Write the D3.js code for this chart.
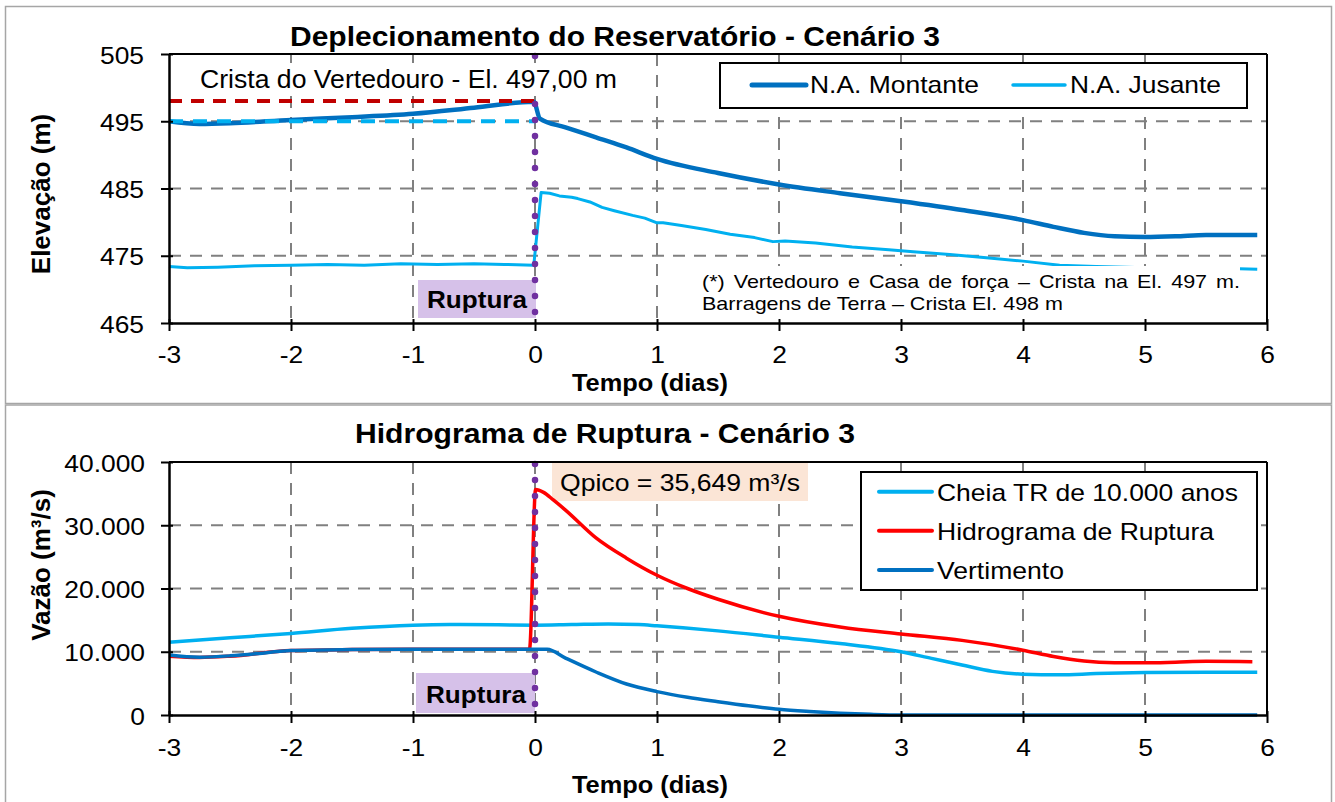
<!DOCTYPE html>
<html><head><meta charset="utf-8">
<script src="https://cdn.jsdelivr.net/npm/d3@7"></script>
<style>
body{margin:0;background:#fff}
svg{display:block}
text{font-family:"Liberation Sans", Arial, sans-serif; fill:#000}
</style>
</head><body>
<svg id="c" width="1335" height="802"></svg>
<script>
// ---------------- DATA ----------------
const diasTicks = [-3, -2, -1, 0, 1, 2, 3, 4, 5, 6];
const elevTicks = [465, 475, 485, 495, 505];
const vazaoTicks = [0, 10000, 20000, 30000, 40000];

// Top chart: Deplecionamento
const tMontante = [-3, -2.75, -2.5, -2.0, -1.5, -1.0, -0.5, -0.01, 0.04, 0.25, 0.5, 0.75, 1.0, 1.5, 2.0, 2.5, 3.0, 3.5, 4.0, 4.25, 4.5, 4.75, 5.0, 5.25, 5.5, 5.92];
const naMontante = [495.0, 494.6, 494.7, 495.2, 495.6, 496.1, 497.0, 497.9, 495.4, 494.1, 492.6, 491.1, 489.4, 487.3, 485.6, 484.3, 483.1, 481.8, 480.3, 479.3, 478.4, 477.9, 477.8, 477.9, 478.1, 478.1];

const tJusante = [-3, -2.85, -2.6, -2.3, -2.0, -1.7, -1.4, -1.1, -0.8, -0.5, -0.25, -0.01, 0.05, 0.12, 0.2, 0.3, 0.35, 0.45, 0.55, 0.65, 0.8, 0.9, 1.0, 1.05, 1.2, 1.4, 1.6, 1.8, 1.95, 2.05, 2.3, 2.6, 2.9, 3.1, 3.4, 3.7, 4.0, 4.3, 4.6, 5.0, 5.4, 5.7, 5.92];
const naJusante = [473.4, 473.2, 473.3, 473.5, 473.6, 473.7, 473.6, 473.8, 473.7, 473.8, 473.7, 473.6, 484.4, 484.3, 483.9, 483.7, 483.5, 483.0, 482.2, 481.7, 481.0, 480.6, 479.9, 479.9, 479.5, 478.9, 478.2, 477.7, 477.1, 477.2, 476.9, 476.3, 475.9, 475.6, 475.2, 474.7, 474.2, 473.6, 473.4, 473.2, 473.1, 473.1, 473.0];

const tReferencia = [-3, 0];
const elCrista = [498, 498];
const elNormal = [495, 495];
const tRuptura = 0;

// Bottom chart: Hidrograma
const tCheia = [-3, -2.5, -2, -1.5, -1, -0.7, -0.3, 0, 0.3, 0.6, 0.85, 1.0, 1.5, 2.0, 2.5, 3.0, 3.25, 3.5, 3.75, 4.0, 4.3, 4.6, 5.0, 5.5, 5.92];
const qCheia = [11500, 12200, 12900, 13700, 14200, 14300, 14250, 14200, 14300, 14400, 14300, 14100, 13300, 12300, 11300, 10000, 8950, 7900, 6900, 6450, 6350, 6550, 6700, 6750, 6750];

const tHidro = [-3, -2.75, -2.5, -2, -1.5, -1, -0.5, -0.045, 0.005, 0.07, 0.15, 0.25, 0.5, 0.75, 1.0, 1.25, 1.5, 2.0, 2.5, 3.0, 3.5, 4.0, 4.25, 4.5, 4.75, 5.0, 5.25, 5.5, 5.88];
const qHidro = [9300, 9100, 9300, 10200, 10350, 10400, 10400, 10400, 35649, 35200, 34000, 32400, 28000, 24800, 22100, 20000, 18300, 15600, 13900, 12800, 11800, 10250, 9250, 8550, 8280, 8250, 8350, 8480, 8430];

const tVert = [-3, -2.75, -2.5, -2.2, -2, -1.5, -1, -0.5, 0, 0.1, 0.25, 0.5, 0.75, 1.0, 1.25, 1.5, 1.75, 2.0, 2.25, 2.5, 2.75, 3.0, 4.0, 5.0, 5.92];
const qVert = [9500, 9150, 9350, 9850, 10200, 10350, 10400, 10400, 10400, 10380, 9000, 6800, 4900, 3700, 2800, 2100, 1450, 900, 550, 280, 100, 0, 0, 0, 0];

const qPicoLabel = "Qpico = 35,649 m³/s";

// ---------------- HELPERS ----------------
const svg = d3.select("#c");
svg.append("rect").attr("width", 1335).attr("height", 802).attr("fill", "#fff");

const C = {dark: "#0070c0", light: "#00b0f0", red: "#ff0000", crest: "#c00000", purple: "#7030a0", grid: "#808080"};
const locale = d3.formatLocale({decimal: ",", thousands: ".", grouping: [3], currency: ["", ""], minus: "-"});
const fmtQ = locale.format(",d");
const fmtD = locale.format("d");

function addText(parent, str, o) {
  const t = parent.append("text").text(str)
    .attr("font-size", o.size || 24)
    .attr("font-weight", o.weight || "normal")
    .attr("y", o.y);
  const w = t.node().getComputedTextLength();
  const W = o.width != null ? o.width : w * (o.k || 1.1);
  let x0 = o.x;
  if (o.anchor === "middle") x0 = o.x - W / 2;
  if (o.anchor === "end") x0 = o.x - W;
  t.attr("x", x0).attr("textLength", W).attr("lengthAdjust", "spacingAndGlyphs");
  return t;
}

function styleAxis(g, orient, pad) {
  g.attr("font-size", null).attr("font-family", null);
  g.select(".domain").attr("stroke", "#000").attr("stroke-width", 2.5);
  g.selectAll(".tick line").attr("stroke", "#000").attr("stroke-width", 2);
  if (orient === "bottom") g.selectAll(".tick line").attr("y1", -4).attr("y2", 8);
  else g.selectAll(".tick line").attr("x1", 4).attr("x2", -8);
  g.selectAll(".tick text").each(function () {
    const t = d3.select(this);
    t.attr("font-size", 24).attr("dy", null).attr("fill", "#000").attr("text-anchor", "start");
    const w = this.getComputedTextLength();
    const W = w * 1.1;
    if (orient === "bottom") t.attr("x", -W / 2).attr("y", pad);
    else t.attr("x", -pad - W).attr("y", 9);
    t.attr("textLength", W).attr("lengthAdjust", "spacingAndGlyphs");
  });
}

function gridlines(g, x, y, xVals, yVals, y0, y1, x0, x1) {
  const gg = g.append("g").attr("stroke", C.grid).attr("stroke-width", 2).attr("stroke-dasharray", "12,9");
  xVals.forEach(v => gg.append("line").attr("x1", x(v)).attr("x2", x(v)).attr("y1", y0).attr("y2", y1));
  yVals.forEach(v => gg.append("line").attr("x1", x0).attr("x2", x1).attr("y1", y(v)).attr("y2", y(v)));
}

function series(g, xs, ys, x, y, color, width, curve, dash) {
  const pts = xs.map((d, i) => [d, ys[i]]);
  const line = d3.line().x(d => x(d[0])).y(d => y(d[1])).curve(curve || d3.curveMonotoneX);
  const p = g.append("path").datum(pts).attr("d", line).attr("fill", "none")
    .attr("stroke", color).attr("stroke-width", width).attr("stroke-linejoin", "round");
  if (dash) p.attr("stroke-dasharray", dash);
  return p;
}

// Panel frames
svg.append("rect").attr("x", 5.5).attr("y", 6.5).attr("width", 1326).attr("height", 397)
  .attr("fill", "none").attr("stroke", "#a6a6a6").attr("stroke-width", 1.5);
svg.append("rect").attr("x", 5.5).attr("y", 405).attr("width", 1326).attr("height", 400)
  .attr("fill", "none").attr("stroke", "#a6a6a6").attr("stroke-width", 1.5);

// ---------------- TOP CHART ----------------
const PL = 169, PR = 1267;
const xT = d3.scaleLinear().domain([-3, 6]).range([PL, PR]);
const yT = d3.scaleLinear().domain([465, 505]).range([323, 54]);
const gTop = svg.append("g");

gridlines(gTop, xT, yT, diasTicks.slice(1, -1), elevTicks.slice(1, -1), 54, 323, PL, PR);

series(gTop, tMontante, naMontante, xT, yT, C.dark, 4.5);
series(gTop, tJusante, naJusante, xT, yT, C.light, 3, d3.curveLinear);
series(gTop, tReferencia, elCrista, xT, yT, C.crest, 4, d3.curveLinear, "13,9");
series(gTop, tReferencia, elNormal, xT, yT, C.light, 4, d3.curveLinear, "14,10");

// annotation box
gTop.append("rect").attr("x", 690).attr("y", 266).attr("width", 550).attr("height", 55).attr("fill", "#fff");
(function () {
  const ag = gTop.append("g");
  const l2 = ag.append("text").text("Barragens de Terra – Crista El. 498 m").attr("font-size", 19).attr("y", 310);
  const w2 = l2.node().getComputedTextLength();
  const k = 361 / w2;
  l2.attr("x", 702).attr("textLength", 361).attr("lengthAdjust", "spacingAndGlyphs");
  const words = "(*) Vertedouro e Casa de força – Crista na El. 497 m.".split(" ");
  const nodes = words.map(wd => ag.append("text").text(wd).attr("font-size", 19).attr("y", 288));
  const ws = nodes.map(n => n.node().getComputedTextLength() * k);
  const total = 538, gap = (total - d3.sum(ws)) / (words.length - 1);
  let xx = 702;
  nodes.forEach((n, i) => { n.attr("x", xx).attr("textLength", ws[i]).attr("lengthAdjust", "spacingAndGlyphs"); xx += ws[i] + gap; });
})();

// Ruptura label
gTop.append("rect").attr("x", 418).attr("y", 280).attr("width", 118).attr("height", 38).attr("fill", "#d6c1e9");
addText(gTop, "Ruptura", {x: 477, y: 308, size: 24, weight: "bold", width: 100, anchor: "middle"});

// Purple dotted rupture line
gTop.append("line").attr("x1", xT(tRuptura)).attr("x2", xT(tRuptura)).attr("y1", 56).attr("y2", 323)
  .attr("stroke", C.purple).attr("stroke-width", 6.5).attr("stroke-linecap", "round").attr("stroke-dasharray", "0,16");

// Crista label (white box)
gTop.append("rect").attr("x", 193).attr("y", 63).attr("width", 432).attr("height", 32).attr("fill", "#fff");
addText(gTop, "Crista do Vertedouro - El. 497,00 m", {x: 200, y: 88, size: 25, width: 417});

// legend
const lgT = gTop.append("g");
lgT.append("rect").attr("x", 720).attr("y", 63).attr("width", 527).attr("height", 45).attr("fill", "#fff").attr("stroke", "#000").attr("stroke-width", 2);
lgT.append("line").attr("x1", 752).attr("x2", 806).attr("y1", 85).attr("y2", 85).attr("stroke", C.dark).attr("stroke-width", 5).attr("stroke-linecap", "round");
addText(lgT, "N.A. Montante", {x: 810, y: 93, size: 24, width: 169});
lgT.append("line").attr("x1", 1013).attr("x2", 1065).attr("y1", 85).attr("y2", 85).attr("stroke", C.light).attr("stroke-width", 3.5).attr("stroke-linecap", "round");
addText(lgT, "N.A. Jusante", {x: 1070, y: 93, size: 24, width: 151});

// frame + axes
gTop.append("line").attr("x1", PL).attr("x2", PR).attr("y1", 54).attr("y2", 54).attr("stroke", "#000").attr("stroke-width", 2);
gTop.append("line").attr("x1", PR).attr("x2", PR).attr("y1", 54).attr("y2", 323).attr("stroke", "#000").attr("stroke-width", 2);
const axXT = gTop.append("g").attr("transform", `translate(0,323)`)
  .call(d3.axisBottom(xT).tickValues(diasTicks).tickFormat(fmtD).tickSizeOuter(0));
styleAxis(axXT, "bottom", 40);
const axYT = gTop.append("g").attr("transform", `translate(${PL},0)`)
  .call(d3.axisLeft(yT).tickValues(elevTicks).tickFormat(fmtD).tickSizeOuter(0));
styleAxis(axYT, "left", 25);

addText(gTop, "Deplecionamento do Reservatório - Cenário 3", {x: 290, y: 46, size: 27, weight: "bold", width: 650});
addText(gTop, "Tempo (dias)", {x: 650, y: 391, size: 24, weight: "bold", width: 156, anchor: "middle"});
gTop.append("text").text("Elevação (m)").attr("font-size", 26).attr("font-weight", "bold")
  .attr("text-anchor", "middle").attr("transform", "translate(50,194) rotate(-90)");

// ---------------- BOTTOM CHART ----------------
const xB = d3.scaleLinear().domain([-3, 6]).range([PL, PR]);
const yB = d3.scaleLinear().domain([0, 40000]).range([715, 462]);
const gBot = svg.append("g");

gridlines(gBot, xB, yB, diasTicks.slice(1, -1), vazaoTicks.slice(1, -1), 462, 715, PL, PR);

// Qpico label (under the curves)
gBot.append("rect").attr("x", 552).attr("y", 463).attr("width", 256).attr("height", 38).attr("fill", "#fbe5d6");
addText(gBot, qPicoLabel, {x: 560, y: 491, size: 24, width: 240});

series(gBot, tCheia, qCheia, xB, yB, C.light, 3.5);
series(gBot, tHidro, qHidro, xB, yB, C.red, 3.5);
series(gBot, tVert, qVert, xB, yB, C.dark, 3.5);

// Ruptura label
gBot.append("rect").attr("x", 416).attr("y", 673).attr("width", 119).attr("height", 40).attr("fill", "#d6c1e9");
addText(gBot, "Ruptura", {x: 476, y: 703, size: 24, weight: "bold", width: 100, anchor: "middle"});

gBot.append("line").attr("x1", xB(tRuptura)).attr("x2", xB(tRuptura)).attr("y1", 464).attr("y2", 715)
  .attr("stroke", C.purple).attr("stroke-width", 6.5).attr("stroke-linecap", "round").attr("stroke-dasharray", "0,16");

// legend
const lgB = gBot.append("g");
lgB.append("rect").attr("x", 861).attr("y", 472).attr("width", 396).attr("height", 118).attr("fill", "#fff").attr("stroke", "#000").attr("stroke-width", 2);
[["Cheia TR de 10.000 anos", C.light, 491.7, 301], ["Hidrograma de Ruptura", C.red, 530.7, 277], ["Vertimento", C.dark, 570, 127]]
  .forEach(([lab, col, yy, w]) => {
    lgB.append("line").attr("x1", 879).attr("x2", 932).attr("y1", yy).attr("y2", yy).attr("stroke", col).attr("stroke-width", 4).attr("stroke-linecap", "round");
    addText(lgB, lab, {x: 937, y: yy + 9, size: 24, width: w});
  });

gBot.append("line").attr("x1", PL).attr("x2", PR).attr("y1", 462).attr("y2", 462).attr("stroke", "#000").attr("stroke-width", 2);
gBot.append("line").attr("x1", PR).attr("x2", PR).attr("y1", 462).attr("y2", 715).attr("stroke", "#000").attr("stroke-width", 2);
const axXB = gBot.append("g").attr("transform", `translate(0,715)`)
  .call(d3.axisBottom(xB).tickValues(diasTicks).tickFormat(fmtD).tickSizeOuter(0));
styleAxis(axXB, "bottom", 41);
const axYB = gBot.append("g").attr("transform", `translate(${PL},0)`)
  .call(d3.axisLeft(yB).tickValues(vazaoTicks).tickFormat(fmtQ).tickSizeOuter(0));
styleAxis(axYB, "left", 24);

addText(gBot, "Hidrograma de Ruptura - Cenário 3", {x: 355, y: 443, size: 27, weight: "bold", width: 500});
addText(gBot, "Tempo (dias)", {x: 650, y: 793, size: 24, weight: "bold", width: 156, anchor: "middle"});
gBot.append("text").text("Vazão (m³/s)").attr("font-size", 26).attr("font-weight", "bold")
  .attr("text-anchor", "middle").attr("transform", "translate(50,565) rotate(-90)");
</script>
</body></html>
